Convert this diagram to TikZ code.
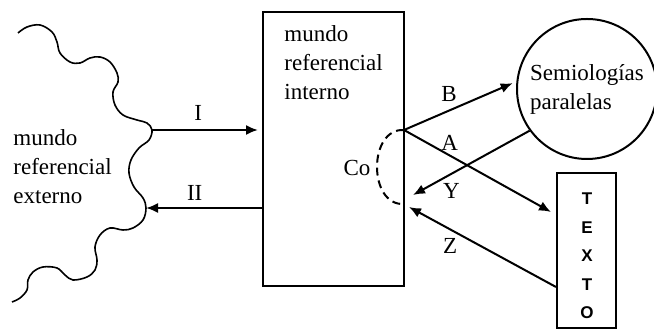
\documentclass[tikz,border=0pt]{standalone}
\usepackage{fontspec}
\setmainfont{Liberation Serif}
\setsansfont{Liberation Sans}
\usetikzlibrary{arrows.meta}

\begin{document}
\begin{tikzpicture}[
        x=0.5pt, y=-0.5pt,
        every node/.style={font=\fontsize{11.5}{14.5}\selectfont},
        box/.style={draw, line width=1pt, inner sep=0pt},
        txt/.style={align=left, inner sep=0pt},
        lbl/.style={inner sep=0pt},
        arr/.style={draw, line width=1pt, -{Latex[length=6pt, width=5pt]}},
        wave/.style={line width=0.8pt}
    ]
        \useasboundingbox (0,0) rectangle (654,330);

        \node[box, minimum width=70.5pt, minimum height=137pt] (interno) at (333.5,149) {};
        \node[txt, anchor=north west] (internotxt) at (284,25) {mundo\\referencial\\interno};
        \node[box, circle, minimum size=70pt, align=left, inner sep=1pt] (semio) at (587,89) {Semiologías\\paralelas};
        \node[box, minimum width=29.5pt, minimum height=77.5pt] (texto) at (586.5,250.5) {};
        \node[align=center, inner sep=0pt, font=\fontsize{8.5}{14.3}\selectfont\sffamily\bfseries]
            (textotxt) at (587,256) {T\\E\\X\\T\\O};
        \node[txt, anchor=north west] (externo) at (13,129) {mundo\\referencial\\externo};
        \node[lbl] (co) at (357,168) {Co};

        \coordinate (wI) at (152,130);
        \coordinate (wII) at (146,208);
        \coordinate (cotop) at (404,130);
        \coordinate (cobot) at (404,204);
        \coordinate (tipA) at (551,212);
        \coordinate (tipY) at (413,195);
        \coordinate (tipZ) at (409,207);

        \draw[wave] plot[smooth, tension=0.6] coordinates {
            (18,33) (27,27) (40,25) (52,32) (57,42) (60,53) (70,62) (80,63)
            (90,58) (100,57) (110,62) (117,73) (118,82) (113,92) (115,105)
            (123,115) (137,120) (147,123) (152,130) (149,140) (139,148)
            (131,160) (129,173) (134,187) (143,198) (146,208) (143,220)
            (133,228) (123,230) (110,228) (100,235) (95,247) (97,260)
            (95,270) (87,277) (73,280) (65,275) (57,268) (43,267) (33,272)
            (28,280) (27,290) (20,298) (12,302)};

        \draw[arr, shorten >=2pt] (wI) -- node[lbl, pos=0.42, above=4pt] {I} (wI -| interno.west);
        \draw[arr] (interno.west |- wII) -- node[lbl, pos=0.58, above=3pt] {II} (wII);
        \draw[line width=1pt, dash pattern=on 4pt off 2.5pt] (cotop) .. controls (368,128) and (368,206) .. (cobot);
        \draw[arr, shorten >=2pt] (cotop) -- node[lbl, pos=0.4, above=4pt] {B} (semio.174);
        \draw[arr] (cotop) -- node[lbl, pos=0.31, above=2pt] {A} (tipA);
        \draw[arr] (semio.216) -- node[lbl, pos=0.67, below=4.5pt] {Y} (tipY);
        \draw[arr] (texto.west |- 0,287) -- node[lbl, pos=0.72, below=4pt] {Z} (tipZ);
    \end{tikzpicture}
\end{document}
